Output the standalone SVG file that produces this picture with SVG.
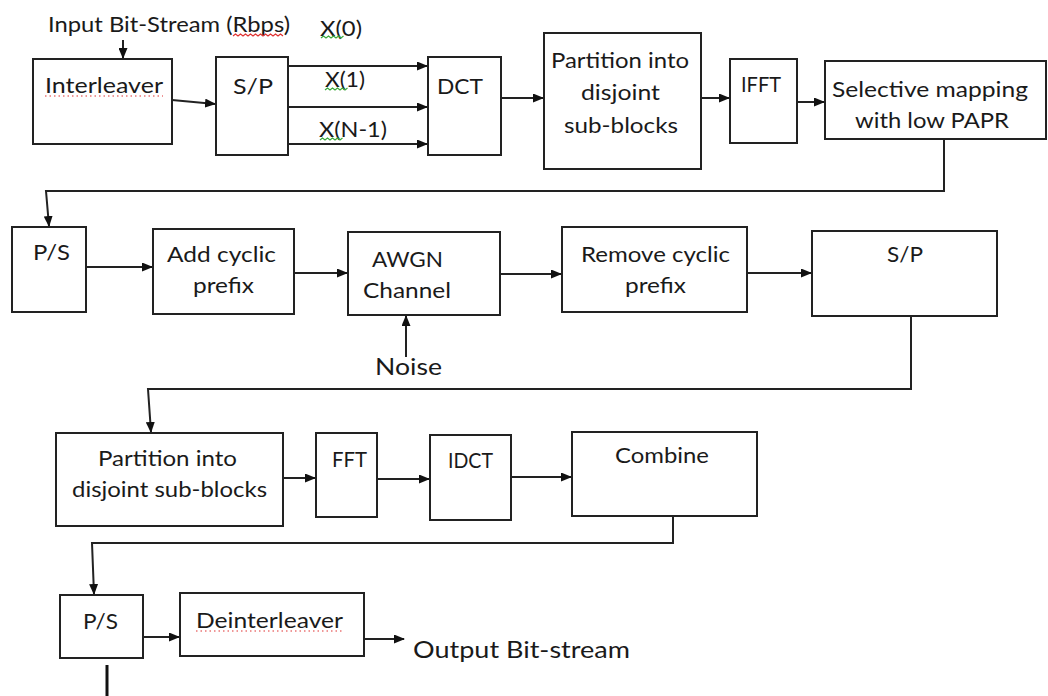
<svg xmlns="http://www.w3.org/2000/svg" width="1048" height="696" viewBox="0 0 1048 696">
<style>
.box{fill:#fff;stroke:#222;stroke-width:2}
.lbl{font-family:Lato,"Open Sans","Liberation Sans",sans-serif;font-size:22px;fill:#1a1a1a}
.sm{font-size:21px}
.big{font-size:24px}
.con{fill:none;stroke:#222;stroke-width:2}
.sq{fill:none;stroke-width:1.2}
</style>
<defs>
<marker id="ah" markerUnits="userSpaceOnUse" markerWidth="11" markerHeight="9" refX="10" refY="4.5" orient="auto">
<path d="M0,0 L11,4.5 L0,9 z" fill="#111"/>
</marker>
</defs>
<rect width="1048" height="696" fill="#fff"/>

<g id="connectors">
<line class="con" x1="123" y1="40" x2="123" y2="58" marker-end="url(#ah)"/>
<line class="con" x1="172" y1="100" x2="215" y2="104" marker-end="url(#ah)"/>
<line class="con" x1="288" y1="66" x2="427" y2="66" marker-end="url(#ah)"/>
<line class="con" x1="288" y1="107" x2="427" y2="107" marker-end="url(#ah)"/>
<line class="con" x1="288" y1="144" x2="427" y2="144" marker-end="url(#ah)"/>
<line class="con" x1="501" y1="98" x2="543" y2="98" marker-end="url(#ah)"/>
<line class="con" x1="701" y1="98" x2="729" y2="98" marker-end="url(#ah)"/>
<line class="con" x1="797" y1="102" x2="824" y2="102" marker-end="url(#ah)"/>
<path class="con" d="M944,139 V191 H46 L49,226" marker-end="url(#ah)"/>
<line class="con" x1="86" y1="267" x2="152" y2="267" marker-end="url(#ah)"/>
<line class="con" x1="294" y1="273" x2="347" y2="273" marker-end="url(#ah)"/>
<line class="con" x1="406" y1="357" x2="406" y2="316" marker-end="url(#ah)"/>
<line class="con" x1="500" y1="274" x2="561" y2="274" marker-end="url(#ah)"/>
<line class="con" x1="747" y1="273" x2="811" y2="273" marker-end="url(#ah)"/>
<path class="con" d="M911,316 V389 H148 L151,432" marker-end="url(#ah)"/>
<line class="con" x1="283" y1="478" x2="315" y2="478" marker-end="url(#ah)"/>
<line class="con" x1="377" y1="479" x2="429" y2="479" marker-end="url(#ah)"/>
<line class="con" x1="511" y1="477" x2="571" y2="477" marker-end="url(#ah)"/>
<path class="con" d="M673,516 V543 H92 L94,594" marker-end="url(#ah)"/>
<line class="con" x1="143" y1="637" x2="179" y2="637" marker-end="url(#ah)"/>
<line class="con" x1="364" y1="639" x2="404" y2="639" marker-end="url(#ah)"/>
<line x1="107" y1="665" x2="107" y2="696" stroke="#111" stroke-width="3"/>
</g>

<g id="input-label">
<text class="lbl sm" x="48" y="32" textLength="242" lengthAdjust="spacingAndGlyphs">Input Bit-Stream (Rbps)</text>
</g>
<g id="x-labels">
<text class="lbl sm" x="320" y="36" textLength="42" lengthAdjust="spacingAndGlyphs">X(0)</text>
<text class="lbl sm" x="325" y="87" textLength="40" lengthAdjust="spacingAndGlyphs">X(1)</text>
<text class="lbl sm" x="319" y="137" textLength="68" lengthAdjust="spacingAndGlyphs">X(N-1)</text>
</g>

<g id="interleaver">
<rect class="box" x="33" y="59" width="139" height="85"/>
<text class="lbl" x="45" y="93" textLength="118" lengthAdjust="spacingAndGlyphs">Interleaver</text>
</g>
<g id="sp1">
<rect class="box" x="216" y="57" width="72" height="98"/>
<text class="lbl" x="233" y="94" textLength="40" lengthAdjust="spacingAndGlyphs">S/P</text>
</g>
<g id="dct">
<rect class="box" x="428" y="57" width="73" height="98"/>
<text class="lbl" x="437" y="94" textLength="46" lengthAdjust="spacingAndGlyphs">DCT</text>
</g>
<g id="partition1">
<rect class="box" x="544" y="33" width="157" height="136"/>
<text class="lbl" x="551" y="68" textLength="138" lengthAdjust="spacingAndGlyphs">Partition into</text>
<text class="lbl" x="581" y="100" textLength="79" lengthAdjust="spacingAndGlyphs">disjoint</text>
<text class="lbl" x="564" y="133" textLength="114" lengthAdjust="spacingAndGlyphs">sub-blocks</text>
</g>
<g id="ifft">
<rect class="box" x="730" y="59" width="67" height="84"/>
<text class="lbl" x="741" y="92" textLength="40" lengthAdjust="spacingAndGlyphs">IFFT</text>
</g>
<g id="slm">
<rect class="box" x="825" y="61" width="221" height="78"/>
<text class="lbl" x="832" y="97" textLength="196" lengthAdjust="spacingAndGlyphs">Selective mapping</text>
<text class="lbl" x="855" y="128" textLength="154" lengthAdjust="spacingAndGlyphs">with low PAPR</text>
</g>

<g id="ps1">
<rect class="box" x="12" y="227" width="74" height="85"/>
<text class="lbl" x="33" y="260" textLength="37" lengthAdjust="spacingAndGlyphs">P/S</text>
</g>
<g id="addcp">
<rect class="box" x="153" y="229" width="141" height="85"/>
<text class="lbl" x="167" y="262" textLength="109" lengthAdjust="spacingAndGlyphs">Add cyclic</text>
<text class="lbl" x="193" y="293" textLength="61" lengthAdjust="spacingAndGlyphs">prefix</text>
</g>
<g id="awgn">
<rect class="box" x="348" y="232" width="152" height="83"/>
<text class="lbl" x="372" y="267" textLength="71" lengthAdjust="spacingAndGlyphs">AWGN</text>
<text class="lbl" x="363" y="298" textLength="88" lengthAdjust="spacingAndGlyphs">Channel</text>
</g>
<g id="noise">
<text class="lbl big" x="375" y="375" textLength="67" lengthAdjust="spacingAndGlyphs">Noise</text>
</g>
<g id="removecp">
<rect class="box" x="562" y="227" width="185" height="85"/>
<text class="lbl" x="581" y="262" textLength="149" lengthAdjust="spacingAndGlyphs">Remove cyclic</text>
<text class="lbl" x="625" y="293" textLength="61" lengthAdjust="spacingAndGlyphs">prefix</text>
</g>
<g id="sp2">
<rect class="box" x="812" y="231" width="185" height="85"/>
<text class="lbl" x="887" y="262" textLength="36" lengthAdjust="spacingAndGlyphs">S/P</text>
</g>

<g id="partition2">
<rect class="box" x="56" y="433" width="227" height="93"/>
<text class="lbl" x="98" y="466" textLength="139" lengthAdjust="spacingAndGlyphs">Partition into</text>
<text class="lbl" x="72" y="497" textLength="195" lengthAdjust="spacingAndGlyphs">disjoint sub-blocks</text>
</g>
<g id="fft">
<rect class="box" x="316" y="433" width="61" height="84"/>
<text class="lbl" x="332" y="467" textLength="35" lengthAdjust="spacingAndGlyphs">FFT</text>
</g>
<g id="idct">
<rect class="box" x="430" y="435" width="81" height="85"/>
<text class="lbl" x="448" y="468" textLength="45" lengthAdjust="spacingAndGlyphs">IDCT</text>
</g>
<g id="combine">
<rect class="box" x="572" y="432" width="185" height="84"/>
<text class="lbl" x="615" y="463" textLength="94" lengthAdjust="spacingAndGlyphs">Combine</text>
</g>

<g id="ps2">
<rect class="box" x="60" y="595" width="83" height="63"/>
<text class="lbl" x="83" y="629" textLength="35" lengthAdjust="spacingAndGlyphs">P/S</text>
</g>
<g id="deinterleaver">
<rect class="box" x="180" y="593" width="184" height="63"/>
<text class="lbl" x="196" y="628" textLength="147" lengthAdjust="spacingAndGlyphs">Deinterleaver</text>
</g>
<g id="output-label">
<text class="lbl big" x="413" y="658" textLength="217" lengthAdjust="spacingAndGlyphs">Output Bit-stream</text>
</g>

<g id="spellcheck-marks">
<path class="sq" stroke="#e03030" d="M233,36 l2.5,-2 l2.5,2 l2.5,-2 l2.5,2 l2.5,-2 l2.5,2 l2.5,-2 l2.5,2 l2.5,-2 l2.5,2 l2.5,-2 l2.5,2 l2.5,-2 l2.5,2 l2.5,-2 l2.5,2 l2.5,-2 l2.5,2 l2.5,-2 l2.5,2"/>
<path class="sq" stroke="#3aa83a" d="M321,38 l2.5,-2 l2.5,2 l2.5,-2 l2.5,2 l2.5,-2 l2.5,2 l2.5,-2 l2.5,2 l2.5,-2"/>
<path class="sq" stroke="#3aa83a" d="M325,90 l2.5,-2 l2.5,2 l2.5,-2 l2.5,2 l2.5,-2 l2.5,2 l2.5,-2 l2.5,2 l2.5,-2"/>
<path class="sq" stroke="#3aa83a" d="M320,140 l2.5,-2 l2.5,2 l2.5,-2 l2.5,2 l2.5,-2 l2.5,2 l2.5,-2 l2.5,2 l2.5,-2"/>
<line x1="45" y1="96" x2="163" y2="96" stroke="#e03030" stroke-width="1.2" stroke-dasharray="1.5 3"/>
<line x1="196" y1="631" x2="343" y2="631" stroke="#e03030" stroke-width="1.2" stroke-dasharray="1.5 3"/>
</g>
</svg>
